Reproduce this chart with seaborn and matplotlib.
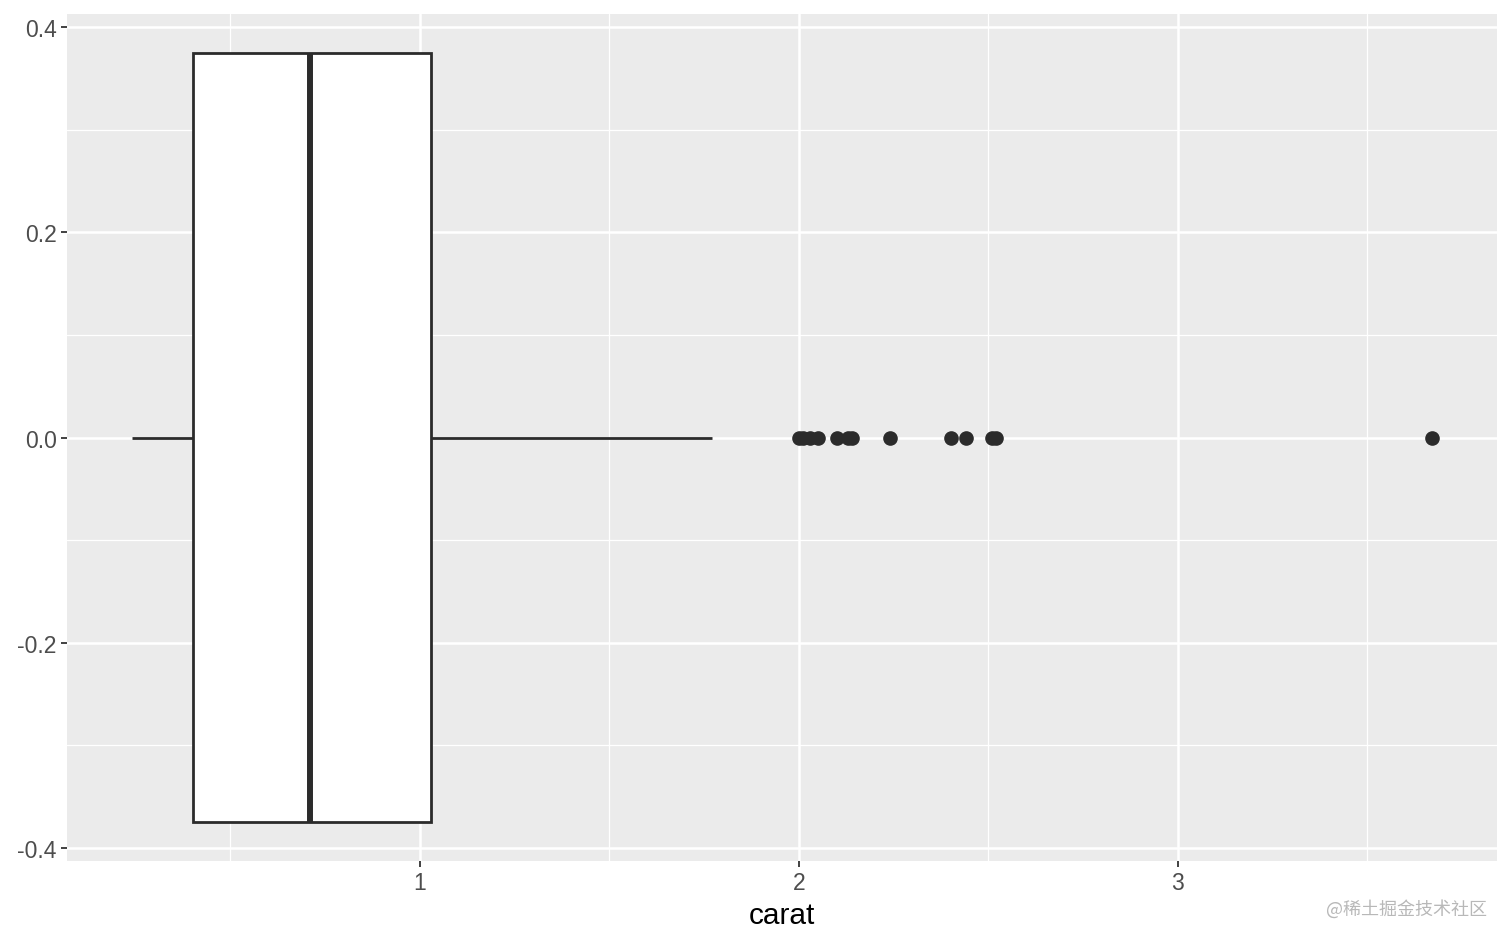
import numpy as np
import pandas as pd
import seaborn as sns
import matplotlib.pyplot as plt
from matplotlib.ticker import FixedLocator

# Box-plot statistics of carat
whisker_low = 0.24
q1 = 0.40
median = 0.71
q3 = 1.03
whisker_high = 1.77
outliers = [2.00, 2.01, 2.03, 2.05, 2.10, 2.13, 2.14, 2.24, 2.40, 2.44, 2.51, 2.52, 3.67]

x_ticks = [1, 2, 3]
x_minor = [0.5, 1.5, 2.5, 3.5]
y_ticks = [-0.4, -0.2, 0.0, 0.2, 0.4]
y_tick_labels = ["-0.4", "-0.2", "0.0", "0.2", "0.4"]
y_minor = [-0.3, -0.1, 0.1, 0.3]

# Sample that reproduces exactly those statistics (numpy linear quantiles)
m = len(outliers) + 1
carat = ([whisker_low] + [q1] * m + [median] * m + [q3] * m
         + [whisker_high] + outliers)
df = pd.DataFrame({"carat": carat})

sns.set_theme(style="darkgrid", rc={
    "axes.facecolor": "#EBEBEB",
    "figure.facecolor": "white",
    "grid.color": "white",
})
plt.rcParams["font.family"] = ["Liberation Sans", "DejaVu Sans"]

fig = plt.figure(figsize=(15.12, 9.45), dpi=100)
ax = fig.add_axes([67 / 1512, 1 - 862 / 945, (1497 - 67) / 1512, (862 - 15) / 945])

line_col = "#2B2B2B"
sns.boxplot(
    data=df, x="carat", ax=ax, width=0.75, whis=1.5,
    color="white", linecolor=line_col, linewidth=2.0, showcaps=False,
    fliersize=9.5,
    boxprops=dict(facecolor="white", edgecolor=line_col, linewidth=2.0),
    medianprops=dict(color=line_col, linewidth=4.3),
    whiskerprops=dict(color=line_col, linewidth=2.0),
    flierprops=dict(marker="o", markerfacecolor=line_col, markeredgecolor=line_col),
)

ax.set_xlim(0.0686, 3.842)
ax.set_ylim(-0.4127, 0.4127)
ax.set_xticks(x_ticks)
ax.set_xticklabels([str(t) for t in x_ticks])
ax.set_yticks(y_ticks)
ax.set_yticklabels(y_tick_labels)
ax.xaxis.set_minor_locator(FixedLocator(x_minor))
ax.yaxis.set_minor_locator(FixedLocator(y_minor))

ax.set_axisbelow(True)
ax.grid(True, which="major", color="white", linewidth=1.8)
ax.grid(True, which="minor", color="white", linewidth=0.9)
ax.xaxis.grid(True, which="major", color="white", linewidth=1.8)
ax.yaxis.grid(True, which="major", color="white", linewidth=1.8)

for s in ax.spines.values():
    s.set_visible(False)

ax.tick_params(which="major", length=4.5, width=1.3, color="#333333",
               labelsize=16.5, labelcolor="#4D4D4D", pad=3,
               bottom=True, left=True)
ax.tick_params(which="minor", length=0)

ax.set_xlabel("carat", fontsize=21.5, color="black", labelpad=5)
ax.set_ylabel("")

fig.text(0.9835, 0.038, "@稀土掘金技术社区", ha="right", va="center",
         fontsize=13, color="#B8B8B8",
         family=["Noto Sans CJK SC", "DejaVu Sans"])

fig.savefig("out.png", dpi=100)
